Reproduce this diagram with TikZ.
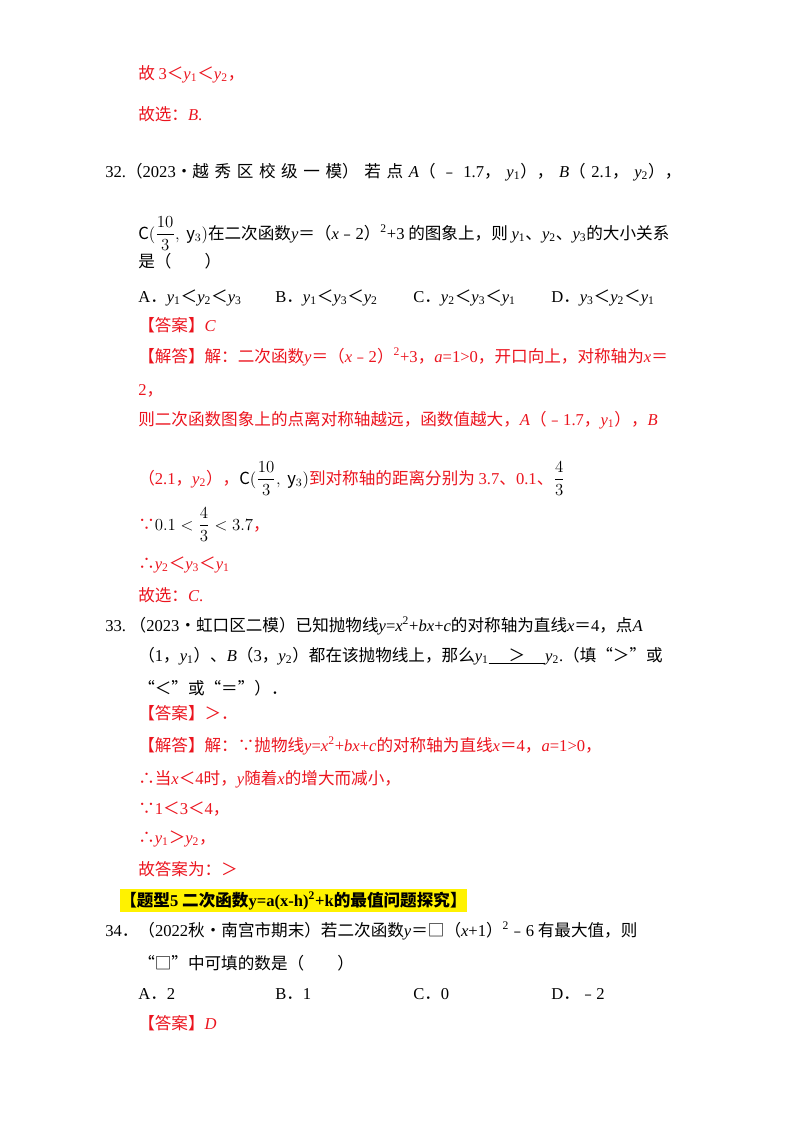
\documentclass[tikz,border=0pt]{standalone}
\usepackage{amsmath}
\usepackage{fontspec}
\setmainfont{Noto Sans CJK SC}
\newfontfamily\tms{Liberation Serif}
\newcommand\vi[1]{{\tms\itshape #1}}
\newcommand\vs[2]{{\tms\itshape #1}\textsubscript{\tms #2}}
\newcommand\nm[1]{{\tms #1}}
\definecolor{ansred}{RGB}{235,20,30}
\begin{document}
\begin{tikzpicture}[x=0.025cm,y=-0.025cm,
  txt/.style={anchor=base west,inner sep=0pt,font=\fontsize{11.8}{13}\selectfont},
  ans/.style={txt,text=ansred}]
\useasboundingbox (0,0) rectangle (800,1132);
\node[ans] (l1) at (138,79) {故 \nm{3}＜\vs{y}{1}＜\vs{y}{2}，};
\node[ans] (l2) at (138,120) {故选：\vi{B}\nm{.}};
\node[txt] (q32) at (105,177) {\makebox[14.4cm][s]{\nm{32.}（\nm{2023}•越 秀 区 校 级 一 模） 若 点 \vi{A}（ ﹣ \nm{1.7}， \vs{y}{1}）， \vi{B}（ \nm{2.1}， \vs{y}{2}），}};
\node[txt] (q32b) at (138,239) {$\mathrm{C}(\dfrac{10}{3},\ \mathrm{y}_3)$在二次函数\vi{y}＝（\vi{x}﹣\nm{2}）\textsuperscript{\nm{2}}\nm{+3} 的图象上，则 \vs{y}{1}、\vs{y}{2}、\vs{y}{3}的大小关系};
\node[txt] (q32c) at (138,267) {是（\qquad）};
\node[txt] (oa) at (138,302) {\nm{A}．\vs{y}{1}＜\vs{y}{2}＜\vs{y}{3}};
\node[txt] (ob) at (275,302) {\nm{B}．\vs{y}{1}＜\vs{y}{3}＜\vs{y}{2}};
\node[txt] (oc) at (413,302) {\nm{C}．\vs{y}{2}＜\vs{y}{3}＜\vs{y}{1}};
\node[txt] (od) at (551,302) {\nm{D}．\vs{y}{3}＜\vs{y}{2}＜\vs{y}{1}};
\node[ans] (a32) at (138,331) {【答案】\vi{C}};
\node[ans] (s1) at (138,362) {【解答】解：二次函数\vi{y}＝（\vi{x}﹣\nm{2}）\textsuperscript{\nm{2}}\nm{+3}，\vi{a}\nm{=1>0}，开口向上，对称轴为\vi{x}＝};
\node[ans] (s2) at (138,395) {\nm{2}，};
\node[ans] (s3) at (138,425) {则二次函数图象上的点离对称轴越远，函数值越大，\vi{A}（﹣\nm{1.7}，\vs{y}{1}），\vi{B}};
\node[ans] (s4) at (138,484) {（\nm{2.1}，\vs{y}{2}），\textcolor{black}{$\mathrm{C}(\dfrac{10}{3},\ \mathrm{y}_3)$}到对称轴的距离分别为 \nm{3.7}、\nm{0.1}、\textcolor{black}{$\dfrac{4}{3}$}};
\node[ans] (s5) at (138,530) {∵\textcolor{black}{$0.1<\dfrac{4}{3}<3.7$}，};
\node[ans] (s6) at (138,569) {∴\vs{y}{2}＜\vs{y}{3}＜\vs{y}{1}};
\node[ans] (s7) at (138,601) {故选：\vi{C}\nm{.}};
\node[txt] (q33) at (105,631) {\nm{33.}\ （\nm{2023}•虹口区二模）已知抛物线\vi{y}\nm{=}\vi{x}\textsuperscript{\nm{2}}\nm{+}\vi{bx}\nm{+}\vi{c}的对称轴为直线\vi{x}＝\nm{4}，点\vi{A}};
\node[txt] (q33b) at (138,661) {（\nm{1}，\vs{y}{1}）、\vi{B}（\nm{3}，\vs{y}{2}）都在该抛物线上，那么\vs{y}{1}\underline{\hspace{1.2em}＞\hspace{1.2em}}\vs{y}{2}\nm{.}（填“＞”或};
\node[txt] (q33c) at (138,694) {“＜”或“＝”）．};
\node[ans] (a33) at (138,719) {【答案】＞．};
\node[ans] (t1) at (138,751) {【解答】解：∵抛物线\vi{y}\nm{=}\vi{x}\textsuperscript{\nm{2}}\nm{+}\vi{bx}\nm{+}\vi{c}的对称轴为直线\vi{x}＝\nm{4}，\vi{a}\nm{=1>0}，};
\node[ans] (t2) at (138,784) {∴当\vi{x}＜\nm{4}时，\vi{y}随着\vi{x}的增大而减小，};
\node[ans] (t3) at (138,814) {∵\nm{1}＜\nm{3}＜\nm{4}，};
\node[ans] (t4) at (138,843) {∴\vs{y}{1}＞\vs{y}{2}，};
\node[ans] (t5) at (138,875) {故答案为：＞};
\node[txt,fill=yellow,inner ysep=2pt,font=\fontsize{11.8}{13}\selectfont\bfseries] (h5) at (120,906) {【题型\nm{\bfseries 5} 二次函数\nm{\bfseries y=a(x-h)\textsuperscript{2}+k}的最值问题探究】};
\node[txt] (q34) at (105,936) {\nm{34}．（\nm{2022}秋•南宫市期末）若二次函数\vi{y}＝□（\vi{x}\nm{+1}）\textsuperscript{\nm{2}}﹣\nm{6} 有最大值，则};
\node[txt] (q34b) at (138,969) {“□”中可填的数是（\qquad）};
\node[txt] (pa) at (138,999) {\nm{A}．\nm{2}};
\node[txt] (pb) at (275,999) {\nm{B}．\nm{1}};
\node[txt] (pc) at (413,999) {\nm{C}．\nm{0}};
\node[txt] (pd) at (551,999) {\nm{D}．﹣\nm{2}};
\node[ans] (a34) at (138,1029) {【答案】\vi{D}};
\end{tikzpicture}
\end{document}
